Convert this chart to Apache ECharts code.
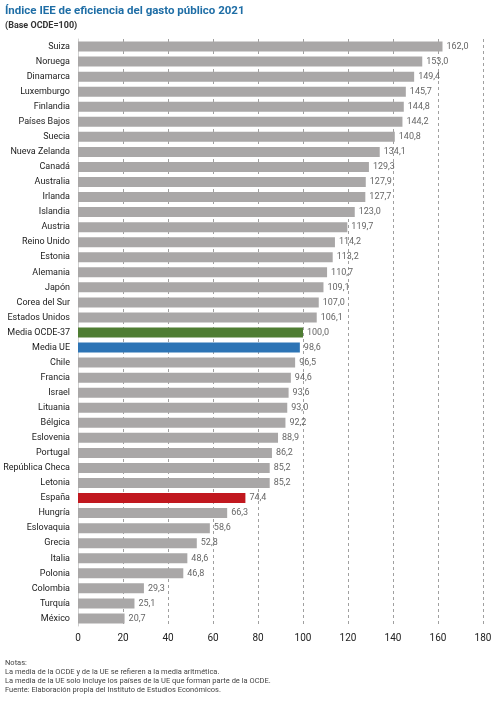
<!DOCTYPE html>
<html>
<head>
<meta charset="utf-8">
<script src="https://cdn.jsdelivr.net/npm/echarts@6/dist/echarts.min.js"></script>
<style>
html,body{margin:0;padding:0;background:#fff;}
#main{width:500px;height:707px;}
</style>
</head>
<body>
<div id="main"></div>
<script>
var paises = ['Suiza','Noruega','Dinamarca','Luxemburgo','Finlandia','Países Bajos','Suecia','Nueva Zelanda','Canadá','Australia','Irlanda','Islandia','Austria','Reino Unido','Estonia','Alemania','Japón','Corea del Sur','Estados Unidos','Media OCDE-37','Media UE','Chile','Francia','Israel','Lituania','Bélgica','Eslovenia','Portugal','República Checa','Letonia','España','Hungría','Eslovaquia','Grecia','Italia','Polonia','Colombia','Turquía','México'];
var indices = [162.0,153.0,149.4,145.7,144.8,144.2,140.8,134.1,129.3,127.9,127.7,123.0,119.7,114.2,113.2,110.7,109.1,107.0,106.1,100.0,98.6,96.5,94.6,93.6,93.0,92.2,88.9,86.2,85.2,85.2,74.4,66.3,58.6,52.8,48.6,46.8,29.3,25.1,20.7];
var destacados = {'Media OCDE-37':'#4f7d33','Media UE':'#2d74b5','España':'#c1181f'};

var fuente = 'Roboto, "Liberation Sans", sans-serif';

var datos = [];
for (var i = 0; i < paises.length; i++) {
	datos.push({
		value: indices[i],
		itemStyle: {color: destacados[paises[i]] || '#a9a7a7'}
	});
}

var chart = echarts.init(document.getElementById('main'));
var option = {
	backgroundColor: '#fff',
	animation: false,
	textStyle: {fontFamily: fuente},
	title: [
		{
			text: 'Índice IEE de eficiencia del gasto público 2021',
			left: 0, top: 0,
			textStyle: {color: '#1f6ea6', fontSize: 11.5, fontWeight: 'bold', fontFamily: fuente}
		},
		{
			text: '(Base OCDE=100)',
			left: 0, top: 16,
			textStyle: {color: '#333', fontSize: 9, fontWeight: 'bold', fontFamily: fuente}
		},
		{
			text: 'Notas:\nLa media de la OCDE y de la UE se refieren a la media aritmética.\nLa media de la UE solo incluye los países de la UE que forman parte de la OCDE.\nFuente: Elaboración propia del Instituto de Estudios Económicos.',
			left: 0, top: 654,
			textStyle: {color: '#444', fontSize: 7.5, fontWeight: 'normal', lineHeight: 9, fontFamily: fuente}
		}
	],
	grid: {left: 78, right: 17, top: 39, bottom: 81, containLabel: false, outerBoundsMode: 'none'},
	xAxis: {
		type: 'value',
		min: 0, max: 180, interval: 20,
		axisLine: {show: false},
		axisTick: {show: false},
		axisLabel: {color: '#222', fontSize: 10, margin: 7, fontFamily: fuente},
		splitLine: {show: true, lineStyle: {color: '#a0a0a0', type: [3, 3], width: 1}}
	},
	yAxis: {
		type: 'category',
		inverse: true,
		data: paises,
		axisLine: {show: true, lineStyle: {color: '#d0d0d0'}},
		axisTick: {show: false},
		axisLabel: {color: '#1a1a1a', fontSize: 9, margin: 8, fontFamily: fuente}
	},
	series: [{
		type: 'bar',
		data: datos,
		barWidth: 10,
		label: {
			show: true,
			position: 'right',
			distance: 4,
			color: '#666',
			fontSize: 9,
			fontFamily: fuente,
			formatter: function (p) { return p.value.toFixed(1).replace('.', ','); }
		}
	}]
};
chart.setOption(option);
</script>
</body>
</html>
